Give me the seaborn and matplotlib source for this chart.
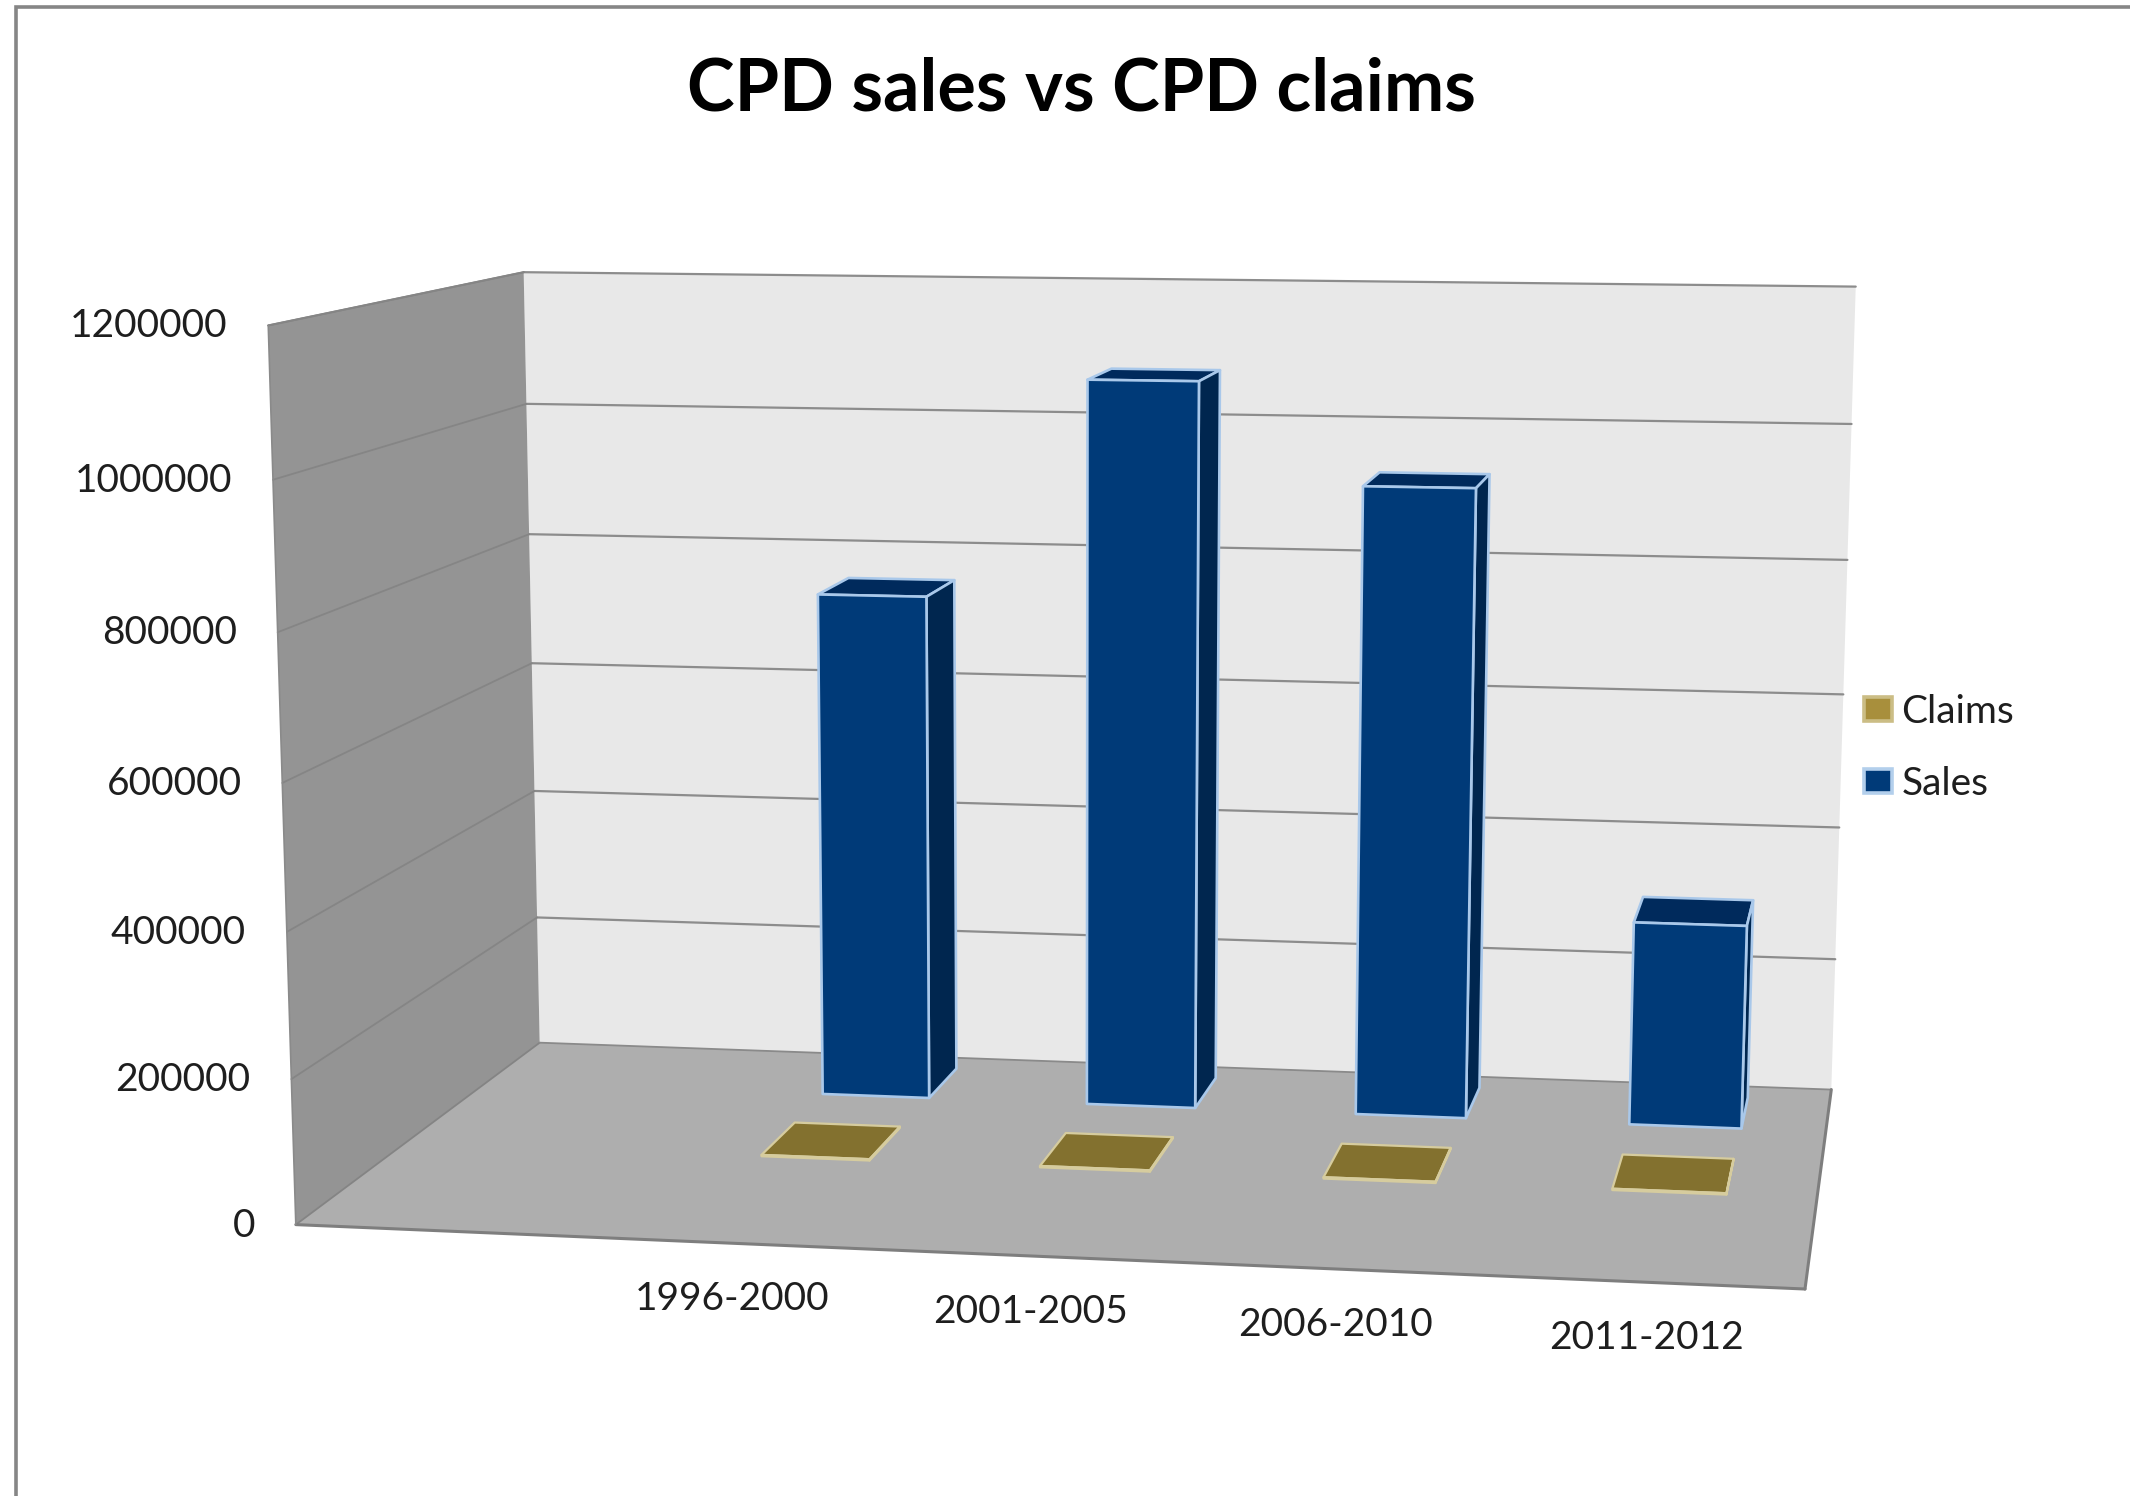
import numpy as np
import matplotlib
matplotlib.use("Agg")
import matplotlib.pyplot as plt
from matplotlib.patches import Polygon, Patch
import seaborn as sns

# Chart data
periods = ["", "1996-2000", "2001-2005", "2006-2010", "2011-2012"]
sales = [None, 752000, 1072000, 925000, 300000]
claims = [None, 2000, 2000, 2000, 2000]
y_ticks = [0, 200000, 400000, 600000, 800000, 1000000, 1200000]
y_max = 1200000
title = "CPD sales vs CPD claims"

sns.set_theme(style="white")
plt.rcParams["font.family"] = ["Lato", "DejaVu Sans"]
front_c, side_c, top_c, edge_c = "#003A78", "#00264F", "#002A5C", "#A9C8EA"
gold_top, gold_edge, gold_leg, gold_leg_edge = "#83712F", "#D6CC9E", "#A88F3C", "#CBBD85"
wall_back, wall_left, floor_c = "#E8E8E8", "#949494", "#AEAEAE"
grid_c, text_c = "#8C8C8C", "#1E1E1E"

W, H = 2130, 1496
S = 2130 / 1568

# Camera of the 3D box: box coordinates (across, depth, height share) to canvas
box_pts = np.array([(0, 0, 0), (1, 0, 0), (1, 1, 0), (0, 1, 0),
                    (0, 0, 1), (0, 1, 1), (1, 1, 1)], float)
img_pts = np.array([(218, 901), (1329, 949), (1348, 802), (397, 768),
                    (197, 240), (386, 200), (1366, 211)], float) * S
rows = []
for (a, b, c), (px, py) in zip(box_pts, img_pts):
    rows.append([a, b, c, 1, 0, 0, 0, 0, -px * a, -px * b, -px * c, -px])
    rows.append([0, 0, 0, 0, a, b, c, 1, -py * a, -py * b, -py * c, -py])
cam = np.linalg.svd(np.array(rows))[2][-1].reshape(3, 4)


def project(across, depth, value):
    q = cam @ np.array([across, depth, value / y_max, 1.0])
    return q[0] / q[2], q[1] / q[2]


fig = plt.figure(figsize=(W / 100, H / 100), dpi=100, facecolor="white")
ax = fig.add_axes([0, 0, 1, 1])
ax.set_xlim(0, W)
ax.set_ylim(H, 0)
ax.axis("off")


def face(corners, fc, ec="none", lw=0.0, z=1):
    ax.add_patch(Polygon([project(*c) for c in corners], closed=True, facecolor=fc,
                         edgecolor=ec, linewidth=lw, joinstyle="round", zorder=z))


def segment(a, b, color, lw, z=2):
    p, q = project(*a), project(*b)
    ax.plot([p[0], q[0]], [p[1], q[1]], color=color, lw=lw, zorder=z, solid_capstyle="round")


# Walls and floor
face([(0, 1, 0), (1, 1, 0), (1, 1, y_max), (0, 1, y_max)], wall_back)
face([(0, 0, 0), (0, 1, 0), (0, 1, y_max), (0, 0, y_max)], wall_left)
face([(0, 0, 0), (1, 0, 0), (1, 1, 0), (0, 1, 0)], floor_c)

# Gridlines run along the back wall and down the left wall
for v in y_ticks[1:]:
    segment((0, 1, v), (1, 1, v), grid_c, 1.6)
    segment((0, 1, v), (0, 0, v), "#858585", 1.3)
segment((0, 1, y_max), (0, 0, y_max), "#858585", 1.5)
segment((0, 1, 0), (0, 0, 0), "#848484", 1.3)
segment((0, 1, 0), (1, 1, 0), "#8A8A8A", 1.3)
segment((0, 0, 0), (1, 0, 0), "#7E7E7E", 2.2)
segment((1, 0, 0), (1, 1, 0), "#7E7E7E", 2.2)
segment((0, 0, 0), (0, 0, y_max), "#8A8A8A", 1.2)

# Value axis labels sit a fixed distance left of the front wall edge
for v in y_ticks:
    x, y = project(0, 0, v)
    ax.text(x - 30 * S, y + 1, str(v), ha="right", va="center", fontsize=28, color=text_c)

# Category labels
n = len(periods)
for i, lab in enumerate(periods):
    if lab:
        x, y = project((i + 0.5) / n, 0, 0)
        ax.text(x - 1, y + 56, lab, ha="center", va="center", fontsize=28, color=text_c)


def bar(center, half, d0, d1, value, front, side, top, edge, base_z, lw):
    l, r = center - half, center + half
    face([(l, d0, value), (r, d0, value), (r, d1, value), (l, d1, value)], top, edge, lw, base_z)
    face([(r, d0, 0), (r, d1, 0), (r, d1, value), (r, d0, value)], side, edge, lw, base_z)
    face([(l, d0, 0), (r, d0, 0), (r, d0, value), (l, d0, value)], front, edge, lw, base_z + 0.1)


# Rear series first, so the front row paints over it
for i, v in enumerate(sales):
    if v is not None:
        bar((i + 0.5) / n - 0.001, 0.0405, 0.76, 0.935, v, front_c, side_c, top_c, edge_c, 4 + i / 10, 1.9)
for i, v in enumerate(claims):
    if v is not None:
        bar((i + 0.5) / n - 0.0005, 0.039, 0.415, 0.59, v, gold_top, gold_top, gold_top, gold_edge, 6 + i / 10, 1.6)

# Legend
handles = [Patch(facecolor=gold_leg, edgecolor=gold_leg_edge, linewidth=2.6, label="Claims"),
           Patch(facecolor=front_c, edgecolor="#B3CFEC", linewidth=2.6, label="Sales")]
ax.legend(handles=handles, loc="center left", bbox_to_anchor=(1864 / W, 1 - 748 / H), frameon=False,
          fontsize=28, labelcolor=text_c, handlelength=0.72, handleheight=0.56,
          handletextpad=0.24, labelspacing=0.93, borderpad=0, borderaxespad=0)

# Title and the chart-area frame
ax.text(796 * S, 66.5 * S, title, ha="center", va="center", fontsize=51.8, fontweight="bold", color="#000000")
ax.plot([16, 16, W], [H, 7, 7], color="#868686", lw=2.6, solid_joinstyle="miter", zorder=10)

fig.savefig("out.png", dpi=100, facecolor="white")
